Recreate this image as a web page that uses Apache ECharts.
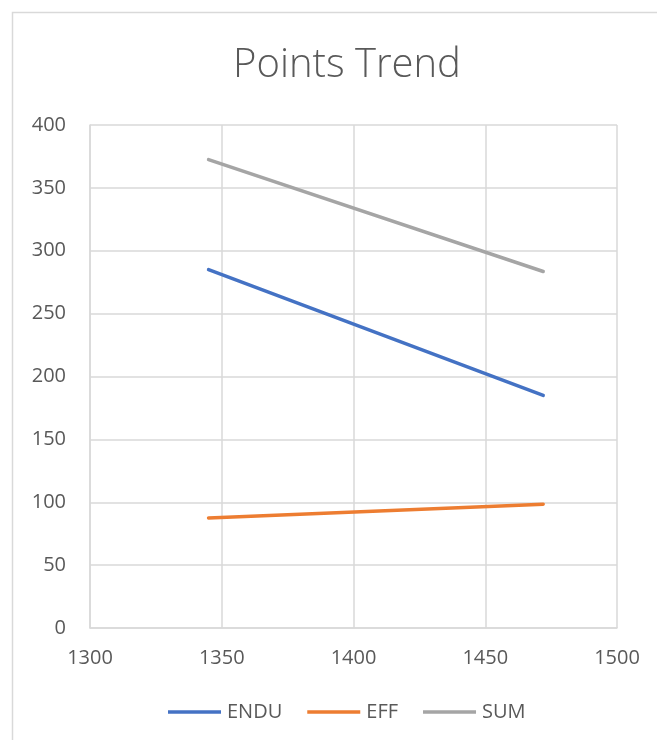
<!DOCTYPE html>
<html>
<head>
<meta charset="utf-8">
<script src="https://cdn.jsdelivr.net/npm/echarts@6/dist/echarts.min.js"></script>
<style>
  html, body { margin: 0; padding: 0; background: #fff; }
  #chart { width: 657px; height: 740px; }
</style>
</head>
<body>
<div id="chart"></div>
<script>
// Points per weight value, for each scoring category
const xValues = [1345, 1472];
const enduPoints = [285, 185];
const effPoints = [87.5, 98.5];
const sumPoints = [372.5, 283.5];
const seriesNames = ['ENDU', 'EFF', 'SUM'];
const seriesColors = ['#4472C4', '#ED7D31', '#A5A5A5'];

const pairs = (ys) => xValues.map((x, i) => [x, ys[i]]);
const allSeries = [enduPoints, effPoints, sumPoints];

const font = '"Open Sans", "Noto Sans", sans-serif';
const textColor = '#595959';
const gridColor = '#d9d9d9';

const chart = echarts.init(document.getElementById('chart'), null, { renderer: 'canvas' });

chart.setOption({
  animation: false,
  backgroundColor: '#ffffff',
  title: {
    text: 'Points Trend',
    left: 342,
    top: 41,
    textAlign: 'center',
    textStyle: { fontFamily: font, fontSize: 40, fontWeight: 300, color: textColor }
  },
  graphic: [{
    type: 'rect',
    shape: { x: 12.5, y: 12.5, width: 700, height: 800 },
    style: { fill: 'none', stroke: gridColor, lineWidth: 1.5 },
    silent: true
  }],
  legend: {
    left: 163,
    top: 697,
    icon: 'rect',
    itemWidth: 53,
    itemHeight: 3.5,
    itemGap: 25,
    data: seriesNames,
    textStyle: { fontFamily: font, fontSize: 20, color: textColor, padding: [0, 0, 0, 1] }
  },
  grid: { left: 90, right: 40, top: 125, bottom: 112, containLabel: false },
  xAxis: {
    type: 'value',
    min: 1300, max: 1500, interval: 50,
    axisLine: { show: true, lineStyle: { color: gridColor, width: 1.5 } },
    axisTick: { show: false },
    splitLine: { show: true, lineStyle: { color: gridColor, width: 1.5 } },
    axisLabel: { margin: 20, fontFamily: font, fontSize: 20, color: textColor, formatter: (v) => String(v) }
  },
  yAxis: {
    type: 'value',
    min: 0, max: 400, interval: 50,
    axisLine: { show: true, lineStyle: { color: gridColor, width: 1.5 } },
    axisTick: { show: false },
    splitLine: { show: true, lineStyle: { color: gridColor, width: 1.5 } },
    axisLabel: { margin: 24, fontFamily: font, fontSize: 20, color: textColor }
  },
  series: seriesNames.map((name, i) => ({
    name,
    type: 'line',
    data: pairs(allSeries[i]),
    showSymbol: false,
    symbol: 'none',
    color: seriesColors[i],
    lineStyle: { width: 3.5, color: seriesColors[i], cap: 'round' }
  }))
});
</script>
</body>
</html>
